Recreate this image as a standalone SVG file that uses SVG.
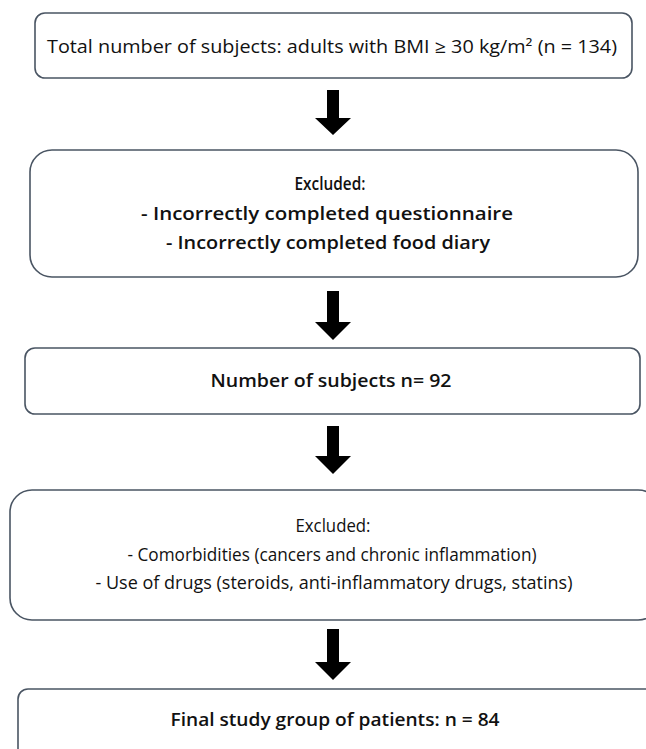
<svg xmlns="http://www.w3.org/2000/svg" width="646" height="749" viewBox="0 0 646 749">
<style>
.box{fill:#fff;stroke:#4a5563;stroke-width:1.6}
.t{font-family:"Open Sans","Liberation Sans",sans-serif;font-size:17.5px;fill:#111;text-anchor:middle}
.b{font-weight:600}
.arr{fill:#000}
</style>
<rect width="646" height="749" fill="#fff"/>
<g id="n1"><rect class="box" x="35" y="13" width="597" height="65" rx="10"/><text class="t" x="332" y="53" textLength="570" lengthAdjust="spacingAndGlyphs">Total number of subjects: adults with BMI ≥ 30 kg/m² (n = 134)</text></g>
<g id="n2"><rect class="box" x="30" y="150" width="608" height="127" rx="22"/>
<text class="t b" x="330" y="190" textLength="71" lengthAdjust="spacingAndGlyphs">Excluded:</text>
<text class="t b" x="327" y="220" textLength="372" lengthAdjust="spacingAndGlyphs">- Incorrectly completed questionnaire</text>
<text class="t b" x="328" y="249" textLength="324" lengthAdjust="spacingAndGlyphs">- Incorrectly completed food diary</text></g>
<g id="n3"><rect class="box" x="25" y="348" width="615" height="66" rx="10"/><text class="t b" x="331" y="387" textLength="241" lengthAdjust="spacingAndGlyphs">Number of subjects n= 92</text></g>
<g id="n4"><rect class="box" x="10" y="490" width="650" height="130" rx="22"/>
<text class="t" x="333" y="532" textLength="75" lengthAdjust="spacingAndGlyphs">Excluded:</text>
<text class="t" x="332" y="561" textLength="409" lengthAdjust="spacingAndGlyphs">- Comorbidities (cancers and chronic inflammation)</text>
<text class="t" x="334" y="589" textLength="477" lengthAdjust="spacingAndGlyphs">- Use of drugs (steroids, anti-inflammatory drugs, statins)</text></g>
<g id="n5"><rect class="box" x="18" y="689" width="640" height="80" rx="10"/><text class="t b" x="335" y="726" textLength="329" lengthAdjust="spacingAndGlyphs">Final study group of patients: n = 84</text></g>
<g id="connectors">
<path class="arr" d="M327 90H339V118H351L333 135L315 118H327Z"/>
<path class="arr" d="M327 291H339V322H351L333 340L315 322H327Z"/>
<path class="arr" d="M327 426H339V456H351L333 474L315 456H327Z"/>
<path class="arr" d="M327 629H339V662H351L333 680L315 662H327Z"/>
</g>
</svg>
